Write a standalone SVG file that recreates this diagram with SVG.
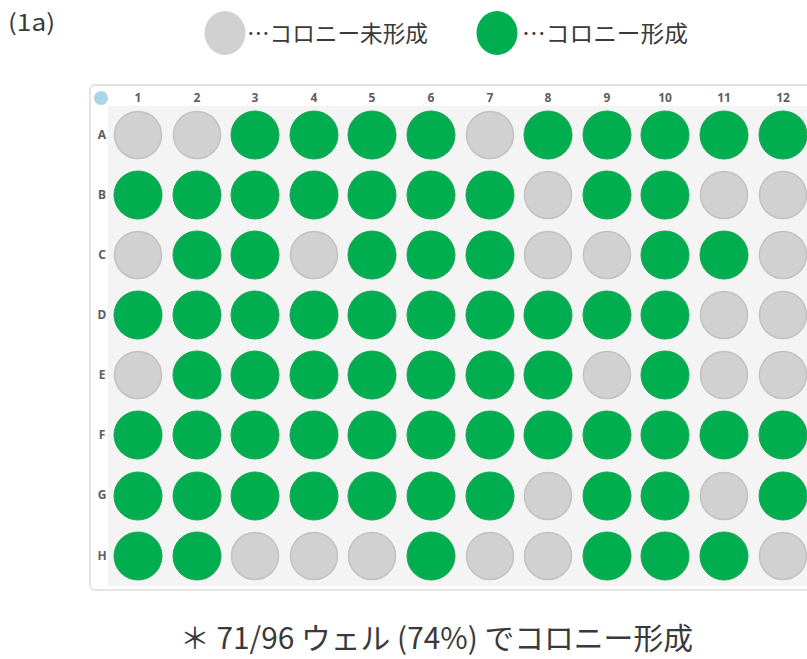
<svg xmlns="http://www.w3.org/2000/svg" width="807" height="659" viewBox="0 0 807 659">
<style>
.t{font-family:"Noto Sans CJK JP","Noto Sans",sans-serif;fill:#3a3a3a}
.h{font-family:"Noto Sans","DejaVu Sans",sans-serif;font-size:12px;font-weight:bold;fill:#5e5e5e;text-anchor:middle}
.g{fill:#00ae4f;stroke:#1ca458;stroke-width:1}
.n{fill:#d1d1d1;stroke:#c2c2c2;stroke-width:1.5}
</style>
<rect width="807" height="659" fill="#ffffff"/>
<text class="t" x="8" y="31" font-size="23" textLength="47" lengthAdjust="spacingAndGlyphs">(1a)</text>
<g id="legend">
  <ellipse cx="225" cy="33" rx="20.5" ry="22" fill="#d1d1d1"/>
  <text class="t" x="247" y="42" font-size="22.5" textLength="181" lengthAdjust="spacingAndGlyphs">…コロニー未形成</text>
  <ellipse cx="497" cy="33" rx="20.5" ry="22" fill="#00ae4f"/>
  <text class="t" x="522" y="42" font-size="22.5" textLength="166" lengthAdjust="spacingAndGlyphs">…コロニー形成</text>
</g>
<g id="plate">
  <rect x="90" y="85" width="730" height="505" rx="5" fill="#ffffff" stroke="#e4e4e4" stroke-width="2"/>
  <rect x="108" y="106" width="710" height="480" fill="#f4f4f4"/>
  <circle cx="101" cy="98" r="7" fill="#a8d8e8"/>
  <g id="col-labels">
    <text class="h" x="138" y="102">1</text><text class="h" x="197" y="102">2</text><text class="h" x="255" y="102">3</text><text class="h" x="314" y="102">4</text><text class="h" x="372" y="102">5</text><text class="h" x="431" y="102">6</text><text class="h" x="490" y="102">7</text><text class="h" x="548" y="102">8</text><text class="h" x="607" y="102">9</text><text class="h" x="665" y="102">10</text><text class="h" x="724" y="102">11</text><text class="h" x="783" y="102">12</text>
  </g>
  <g id="row-labels">
    <text class="h" x="102" y="139">A</text><text class="h" x="102" y="199">B</text><text class="h" x="102" y="259">C</text><text class="h" x="102" y="319">D</text><text class="h" x="102" y="379">E</text><text class="h" x="102" y="439">F</text><text class="h" x="102" y="499">G</text><text class="h" x="102" y="560">H</text>
  </g>
  <g id="row-A">
    <circle class="n" cx="138" cy="135" r="23.5"/><circle class="n" cx="197" cy="135" r="23.5"/><circle class="g" cx="255" cy="135" r="24"/><circle class="g" cx="314" cy="135" r="24"/><circle class="g" cx="372" cy="135" r="24"/><circle class="g" cx="431" cy="135" r="24"/><circle class="n" cx="490" cy="135" r="23.5"/><circle class="g" cx="548" cy="135" r="24"/><circle class="g" cx="607" cy="135" r="24"/><circle class="g" cx="665" cy="135" r="24"/><circle class="g" cx="724" cy="135" r="24"/><circle class="g" cx="783" cy="135" r="24"/>
  </g>
  <g id="row-B">
    <circle class="g" cx="138" cy="195" r="24"/><circle class="g" cx="197" cy="195" r="24"/><circle class="g" cx="255" cy="195" r="24"/><circle class="g" cx="314" cy="195" r="24"/><circle class="g" cx="372" cy="195" r="24"/><circle class="g" cx="431" cy="195" r="24"/><circle class="g" cx="490" cy="195" r="24"/><circle class="n" cx="548" cy="195" r="23.5"/><circle class="g" cx="607" cy="195" r="24"/><circle class="g" cx="665" cy="195" r="24"/><circle class="n" cx="724" cy="195" r="23.5"/><circle class="n" cx="783" cy="195" r="23.5"/>
  </g>
  <g id="row-C">
    <circle class="n" cx="138" cy="255" r="23.5"/><circle class="g" cx="197" cy="255" r="24"/><circle class="g" cx="255" cy="255" r="24"/><circle class="n" cx="314" cy="255" r="23.5"/><circle class="g" cx="372" cy="255" r="24"/><circle class="g" cx="431" cy="255" r="24"/><circle class="g" cx="490" cy="255" r="24"/><circle class="n" cx="548" cy="255" r="23.5"/><circle class="n" cx="607" cy="255" r="23.5"/><circle class="g" cx="665" cy="255" r="24"/><circle class="g" cx="724" cy="255" r="24"/><circle class="n" cx="783" cy="255" r="23.5"/>
  </g>
  <g id="row-D">
    <circle class="g" cx="138" cy="315" r="24"/><circle class="g" cx="197" cy="315" r="24"/><circle class="g" cx="255" cy="315" r="24"/><circle class="g" cx="314" cy="315" r="24"/><circle class="g" cx="372" cy="315" r="24"/><circle class="g" cx="431" cy="315" r="24"/><circle class="g" cx="490" cy="315" r="24"/><circle class="g" cx="548" cy="315" r="24"/><circle class="g" cx="607" cy="315" r="24"/><circle class="g" cx="665" cy="315" r="24"/><circle class="n" cx="724" cy="315" r="23.5"/><circle class="n" cx="783" cy="315" r="23.5"/>
  </g>
  <g id="row-E">
    <circle class="n" cx="138" cy="375" r="23.5"/><circle class="g" cx="197" cy="375" r="24"/><circle class="g" cx="255" cy="375" r="24"/><circle class="g" cx="314" cy="375" r="24"/><circle class="g" cx="372" cy="375" r="24"/><circle class="g" cx="431" cy="375" r="24"/><circle class="g" cx="490" cy="375" r="24"/><circle class="g" cx="548" cy="375" r="24"/><circle class="n" cx="607" cy="375" r="23.5"/><circle class="g" cx="665" cy="375" r="24"/><circle class="n" cx="724" cy="375" r="23.5"/><circle class="n" cx="783" cy="375" r="23.5"/>
  </g>
  <g id="row-F">
    <circle class="g" cx="138" cy="435" r="24"/><circle class="g" cx="197" cy="435" r="24"/><circle class="g" cx="255" cy="435" r="24"/><circle class="g" cx="314" cy="435" r="24"/><circle class="g" cx="372" cy="435" r="24"/><circle class="g" cx="431" cy="435" r="24"/><circle class="g" cx="490" cy="435" r="24"/><circle class="g" cx="548" cy="435" r="24"/><circle class="g" cx="607" cy="435" r="24"/><circle class="g" cx="665" cy="435" r="24"/><circle class="g" cx="724" cy="435" r="24"/><circle class="g" cx="783" cy="435" r="24"/>
  </g>
  <g id="row-G">
    <circle class="g" cx="138" cy="496" r="24"/><circle class="g" cx="197" cy="496" r="24"/><circle class="g" cx="255" cy="496" r="24"/><circle class="g" cx="314" cy="496" r="24"/><circle class="g" cx="372" cy="496" r="24"/><circle class="g" cx="431" cy="496" r="24"/><circle class="g" cx="490" cy="496" r="24"/><circle class="n" cx="548" cy="496" r="23.5"/><circle class="g" cx="607" cy="496" r="24"/><circle class="g" cx="665" cy="496" r="24"/><circle class="n" cx="724" cy="496" r="23.5"/><circle class="g" cx="783" cy="496" r="24"/>
  </g>
  <g id="row-H">
    <circle class="g" cx="138" cy="556" r="24"/><circle class="g" cx="197" cy="556" r="24"/><circle class="n" cx="255" cy="556" r="23.5"/><circle class="n" cx="314" cy="556" r="23.5"/><circle class="n" cx="372" cy="556" r="23.5"/><circle class="g" cx="431" cy="556" r="24"/><circle class="n" cx="490" cy="556" r="23.5"/><circle class="n" cx="548" cy="556" r="23.5"/><circle class="g" cx="607" cy="556" r="24"/><circle class="g" cx="665" cy="556" r="24"/><circle class="g" cx="724" cy="556" r="24"/><circle class="n" cx="783" cy="556" r="23.5"/>
  </g>
</g>
<text class="t" x="180" y="649" font-size="29.5" textLength="513" lengthAdjust="spacingAndGlyphs">＊ 71/96 ウェル (74%) でコロニー形成</text>
</svg>
